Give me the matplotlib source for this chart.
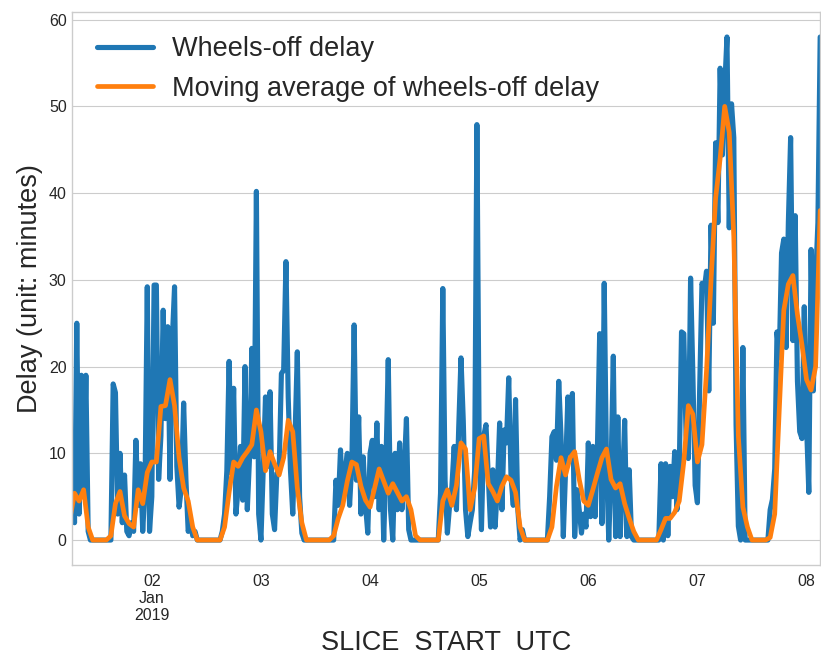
import pandas as pd
import matplotlib.pyplot as plt

# wheels-off delay in minutes, one 30-min slice per value, one list per day
delay_jan01 = [11, 2, 25, 3, 19, 6, 19, 1, 0, 0, 0, 0, 0, 0, 0, 0, 0, 0,
               18, 17, 3, 10, 2, 7.5, 1, 0.5, 2, 1, 11.5, 4, 8.8, 1, 6, 29.2, 1]
delay_jan02 = [5, 29.4, 29.4, 7, 12, 26.5, 14, 24.6, 7, 23, 29.2, 8.5, 3.8, 6, 15.8, 7,
               1, 2, 0.5, 1, 0, 0, 0, 0, 0, 0, 0, 0, 0, 0, 0,
               1, 3, 8, 20.6, 7.7, 17.5, 3, 6, 10.8, 4.6, 20, 3.5, 9.6, 22.1, 9.6, 40.2, 3]
delay_jan03 = [0, 8, 16.5, 8.5, 17.1, 3, 1.2, 7.7, 8, 19.2, 19.6, 32.1, 16.5, 8, 3, 12,
               21.7, 5, 0.8, 0, 0, 0, 0, 0, 0, 0, 0, 0, 0, 0, 0, 0, 0,
               6.9, 4, 10.4, 4.6, 8, 10, 4, 9, 24.8, 6.9, 14.2, 3, 9.6, 4, 0.8]
delay_jan04 = [10, 11.5, 5, 13.5, 3.5, 10.8, 0, 9, 20.8, 3.5, 0, 10, 3.5, 11.2, 3.5, 8,
               14, 1.2, 0, 0, 0, 0, 0, 0, 0, 0, 0, 0, 0, 0, 0,
               5.4, 29, 6.9, 0.8, 4, 6.2, 10.8, 3.5, 13, 21, 13.8, 3.5, 0.4, 2, 3.5, 8, 47.9]
delay_jan05 = [11, 1.2, 12, 13.3, 7.3, 1.5, 8.1, 1.5, 6, 13.5, 3.5, 12.7, 11.2, 18.7, 7.3, 4,
               16.2, 3.5, 0, 1.2, 0, 0, 0, 0, 0, 0, 0, 0, 0, 0, 0,
               5, 11.9, 12.5, 9.2, 18.3, 11.9, 0.4, 8, 16.5, 10, 16.9, 0.4, 5.8, 3.5, 0.8, 3, 1.5]
delay_jan06 = [11.2, 2.7, 10.8, 2.7, 10.4, 23.8, 1.9, 29.6, 8.8, 0, 8, 21.2, 0.4, 14.2, 0.4, 6,
               13.8, 0.4, 8.1, 0.4, 0, 0, 0, 0, 0, 0, 0, 0, 0, 0, 0, 0,
               8.8, 0, 8.8, 0.5, 8.5, 5, 10.2, 3.5, 8, 24, 23.8, 12.1, 9.4, 30.2, 19.1, 6.3]
delay_jan07 = [4.3, 17.6, 29.6, 28.9, 31, 17.2, 36.3, 25, 45.8, 36.6, 54.4, 44.4, 52.2, 58, 36, 50.3,
               46.4, 13.3, 1.6, 0, 22.2, 0, 0, 0, 0, 0, 0, 0, 0, 0, 0, 0,
               3.5, 4.7, 8.2, 24, 21, 33.1, 34.7, 22.2, 36.6, 46.4, 23, 37.4, 18.3, 12.5, 11.7, 26.9]
delay_jan08 = [13.3, 5.5, 33.5, 17.2, 30, 36.6, 58]

avg_jan01 = [2.5, 5.4, 4.5, 5.8, 1.5, 0, 0, 0, 0, 0.5, 4.2, 5.6, 2.8, 1.9, 1.5, 5.8, 4.2, 7.8]
avg_jan02 = [9, 9, 15.4, 15.5, 18.5, 15.5, 9.5, 6, 4.5, 1.5, 0, 0, 0, 0, 0, 0,
             1.5, 5.5, 9, 8.5, 9.5, 10.2, 11, 15]
avg_jan03 = [12.5, 8, 10.2, 8.8, 7.5, 9.5, 13.8, 12.5, 6, 2, 0, 0, 0, 0, 0, 0,
             0.5, 2.5, 4, 6.8, 9, 8.7, 6.2, 4.6]
avg_jan04 = [3.8, 6, 8.2, 6.8, 5.4, 6.5, 5.5, 4.5, 5, 3.5, 0.5, 0, 0, 0, 0, 0,
             4.5, 5.8, 4, 6.3, 11.2, 10.5, 3.5, 6]
avg_jan05 = [11.7, 12, 6.5, 5.6, 4.5, 6.2, 7.3, 6.9, 5.5, 1.5, 0, 0, 0, 0, 0, 0,
             1.5, 6.2, 9.5, 7.5, 9.5, 10.2, 7, 4.5]
avg_jan06 = [4, 5.8, 7.7, 9.5, 10.5, 7, 6, 6.5, 4.2, 2.5, 1, 0, 0, 0, 0, 0,
             1.2, 2.5, 2.5, 3.2, 4.5, 9, 15.5, 14.5]
avg_jan07 = [9, 11, 19.5, 30, 39.4, 44, 50, 47, 35, 12, 3.8, 1.5, 0, 0, 0, 0,
             0.3, 3, 15, 26.5, 29.5, 30.5, 26, 22.5]
avg_jan08 = [18.5, 17.3, 20, 38]

delay_days = [delay_jan01, delay_jan02, delay_jan03, delay_jan04,
              delay_jan05, delay_jan06, delay_jan07, delay_jan08]
avg_days = [avg_jan01, avg_jan02, avg_jan03, avg_jan04,
            avg_jan05, avg_jan06, avg_jan07, avg_jan08]
delay_starts = ["2019-01-01 06:30"] + [f"2019-01-0{d}" for d in range(2, 9)]
avg_starts = ["2019-01-01 06:00"] + [f"2019-01-0{d}" for d in range(2, 9)]

tick_days = pd.date_range("2019-01-02", "2019-01-08", freq="D")
tick_labels = ["02\nJan\n2019", "03", "04", "05", "06", "07", "08"]

delay = pd.concat([pd.Series(v, index=pd.date_range(s, periods=len(v), freq="30min"))
                   for v, s in zip(delay_days, delay_starts)])
avg = pd.concat([pd.Series(v, index=pd.date_range(s, periods=len(v), freq="1h"))
                 for v, s in zip(avg_days, avg_starts)])

plt.style.use("seaborn-v0_8-whitegrid")
plt.rcParams["font.family"] = ["Liberation Sans", "DejaVu Sans"]

fig = plt.figure(figsize=(8.21, 6.58), dpi=100)
ax = fig.add_axes([0.088, 0.141, 0.911, 0.841])

ax.plot(delay.index, delay.values, color="#1f77b4", lw=3.7, label="Wheels-off delay")
ax.plot(avg.index, avg.values, color="#ff7f0e", lw=3.4,
        label="Moving average of wheels-off delay")

ax.set_xlim(delay.index[0], delay.index[-1])
ax.set_xticks(tick_days)
ax.set_xticklabels(tick_labels, fontsize=11.5, color="0.15")
ax.set_yticks(range(0, 61, 10))
ax.tick_params(axis="y", labelsize=11.5, labelcolor="0.15", pad=4)
ax.tick_params(axis="x", pad=6)
ax.xaxis.grid(False)

ax.set_xlabel("SLICE  START  UTC", fontsize=19.5, color="0.15", labelpad=5)
ax.set_ylabel("Delay (unit: minutes)", fontsize=19.5, color="0.15")

ax.legend(loc="upper left", fontsize=19.5, labelspacing=0.5, handlelength=2.1,
          handletextpad=0.7)

fig.savefig("out.png", dpi=100)
